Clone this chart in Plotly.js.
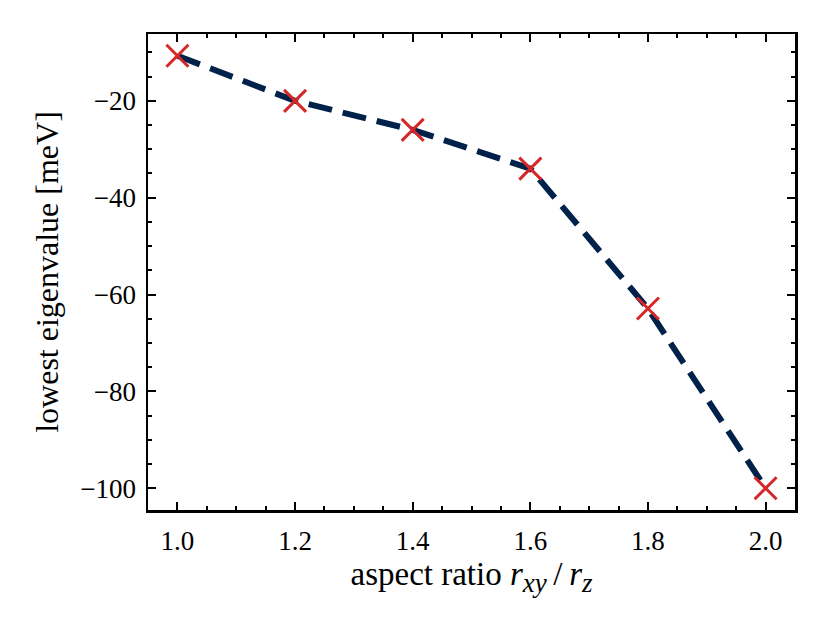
<!DOCTYPE html>
<html>
<head>
<meta charset="utf-8">
<script src="https://cdn.plot.ly/plotly-3.0.1.min.js"></script>
<style>
  html, body { margin: 0; padding: 0; background: #fff; }
  #chart { width: 830px; height: 621px; }
</style>
</head>
<body>
<div id="chart"></div>
<script>
// aspect ratio r_xy / r_z
const aspectRatio = [1.0, 1.2, 1.4, 1.6, 1.8, 2.0];
// lowest eigenvalue in meV
const lowestEigenvalue = [-10.7, -20.0, -26.0, -34.0, -62.9, -100.0];

const serif = "'Liberation Serif', 'DejaVu Serif', serif";

const axisCommon = {
  showline: true,
  linecolor: '#000',
  linewidth: 2.5,
  mirror: 'allticks',
  ticks: 'inside',
  ticklen: 8,
  tickwidth: 2,
  tickcolor: '#000',
  showgrid: false,
  zeroline: false,
  tickfont: { family: serif, size: 27, color: '#000' }
};

const line = {
  x: aspectRatio,
  y: lowestEigenvalue,
  type: 'scatter',
  mode: 'lines',
  line: { color: '#00224a', width: 6, dash: '24px,11px' },
  hoverinfo: 'skip'
};

const marks = {
  x: aspectRatio,
  y: lowestEigenvalue,
  type: 'scatter',
  mode: 'markers',
  marker: {
    symbol: 'x-thin',
    size: 22,
    color: '#d62728',
    line: { color: '#d62728', width: 3 }
  }
};

const layout = {
  width: 830,
  height: 621,
  margin: { l: 148, r: 35, t: 34, b: 111 },
  paper_bgcolor: '#fff',
  plot_bgcolor: '#fff',
  showlegend: false,
  xaxis: Object.assign({}, axisCommon, {
    range: [0.95, 2.05],
    tickvals: [1.0, 1.2, 1.4, 1.6, 1.8, 2.0],
    ticktext: ['1.0', '1.2', '1.4', '1.6', '1.8', '2.0'],
    ticklabelstandoff: 5,
    minor: { ticks: 'inside', dtick: 0.05, tick0: 0.95, ticklen: 4, tickwidth: 2, tickcolor: '#000' },
    title: {
      text: 'aspect ratio <i>r</i><sub><span style="font-size:27px"><i>xy</i></span></sub>' +
            '\u2009/\u2009<i>r</i><sub><span style="font-size:27px"><i>z</i></span></sub>',
      font: { family: serif, size: 33, color: '#000' },
      standoff: 4
    }
  }),
  yaxis: Object.assign({}, axisCommon, {
    range: [-104.5, -6.2],
    tickvals: [-20, -40, -60, -80, -100],
    ticklabelstandoff: 4,
    minor: { ticks: 'inside', dtick: 5, tick0: 0, ticklen: 4, tickwidth: 2, tickcolor: '#000' },
    title: {
      text: 'lowest eigenvalue [meV]',
      font: { family: serif, size: 32, color: '#000' },
      standoff: 12
    }
  })
};

Plotly.newPlot('chart', [line, marks], layout, { displayModeBar: false, staticPlot: true });
</script>
</body>
</html>
